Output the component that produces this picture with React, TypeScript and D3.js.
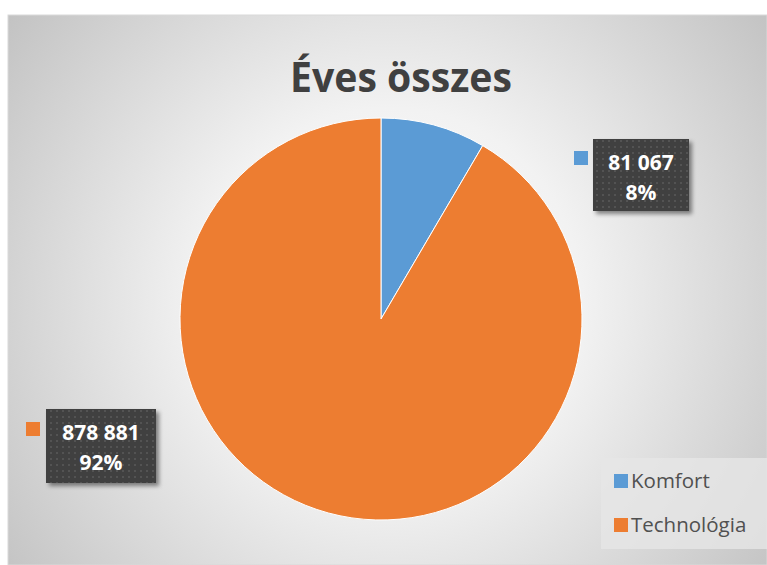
import * as d3 from 'd3';

const categories = ['Komfort', 'Technológia'];
const values = [81067, 878881];
const colors = ['#5B9BD5', '#ED7D31'];
const title = 'Éves összes';

// label box placement (manually moved in the original)
const labelBoxes = [
    { x: 593, y: 139, w: 96, h: 72, mx: 574, my: 151 },
    { x: 46, y: 409, w: 110, h: 74, mx: 26, my: 422 },
];

const width = 767;
const height = 565;

function fmt(v: number) {
    return d3.format(',')(v).replace(/,/g, ' ');
}

export default function App() {
    const cx = 381;
    const cy = 319;
    const radius = 201;
    const total = d3.sum(values);

    const pie = d3.pie<number>().sort(null).value((d) => d);
    const arcs = pie(values);
    const arc = d3.arc<d3.PieArcDatum<number>>().innerRadius(0).outerRadius(radius);

    const font = '"Open Sans", "Noto Sans", sans-serif';

    return (
        <div style={{ position: 'absolute', left: 0, top: 0 }}>
            <svg width={width} height={height} style={{ display: 'block' }}>
                <defs>
                    <radialGradient id="bg" gradientUnits="userSpaceOnUse" cx={390} cy={300} r={480}>
                        <stop offset="0" stopColor="#ffffff" />
                        <stop offset="0.4" stopColor="#f2f2f2" />
                        <stop offset="1" stopColor="#c2c2c2" />
                    </radialGradient>
                    <pattern id="dots" width={6} height={6} patternUnits="userSpaceOnUse">
                        <rect width={6} height={6} fill="#404040" />
                        <rect x={2} y={2} width={2} height={2} fill="#535353" />
                    </pattern>
                    <filter id="shadow" x="-20%" y="-20%" width="150%" height="150%">
                        <feDropShadow dx={3} dy={3} stdDeviation={2} floodColor="#000" floodOpacity={0.45} />
                    </filter>
                </defs>
                <rect x={8} y={15} width={width - 8} height={height - 15} fill="url(#bg)" stroke="#d9d9d9" />
                <text
                    x={401}
                    y={92}
                    textAnchor="middle"
                    fontFamily={font}
                    fontWeight="bold"
                    fontSize={42}
                    fill="#404040"
                    textLength={222}
                    lengthAdjust="spacingAndGlyphs"
                >
                    {title}
                </text>
                <g transform={`translate(${cx},${cy})`}>
                    {arcs.map((a, i) => (
                        <path key={i} d={arc(a) ?? ''} fill={colors[i]} stroke="#fff" strokeWidth={1} />
                    ))}
                </g>
                {labelBoxes.map((b, i) => (
                    <g key={i}>
                        <rect x={b.x} y={b.y} width={b.w} height={b.h} fill="url(#dots)" filter="url(#shadow)" />
                        <rect x={b.mx} y={b.my} width={14} height={14} fill={colors[i]} />
                        <text
                            x={b.x + b.w / 2}
                            y={b.y + 31}
                            textAnchor="middle"
                            fontFamily={font}
                            fontWeight="bold"
                            fontSize={21}
                            fill="#fff"
                        >
                            {fmt(values[i])}
                        </text>
                        <text
                            x={b.x + b.w / 2}
                            y={b.y + 61}
                            textAnchor="middle"
                            fontFamily={font}
                            fontWeight="bold"
                            fontSize={21}
                            fill="#fff"
                        >
                            {Math.round((values[i] / total) * 100)}%
                        </text>
                    </g>
                ))}
                <rect x={601} y={458} width={166} height={91} fill="#e6e6e6" fillOpacity={0.8} />
                {categories.map((c, i) => (
                    <g key={c} transform={`translate(614,${474 + i * 44})`}>
                        <rect width={14} height={14} fill={colors[i]} />
                        <text x={17} y={14} fontFamily={font} fontSize={20.5} fill="#505050">
                            {c}
                        </text>
                    </g>
                ))}
            </svg>
        </div>
    );
}
